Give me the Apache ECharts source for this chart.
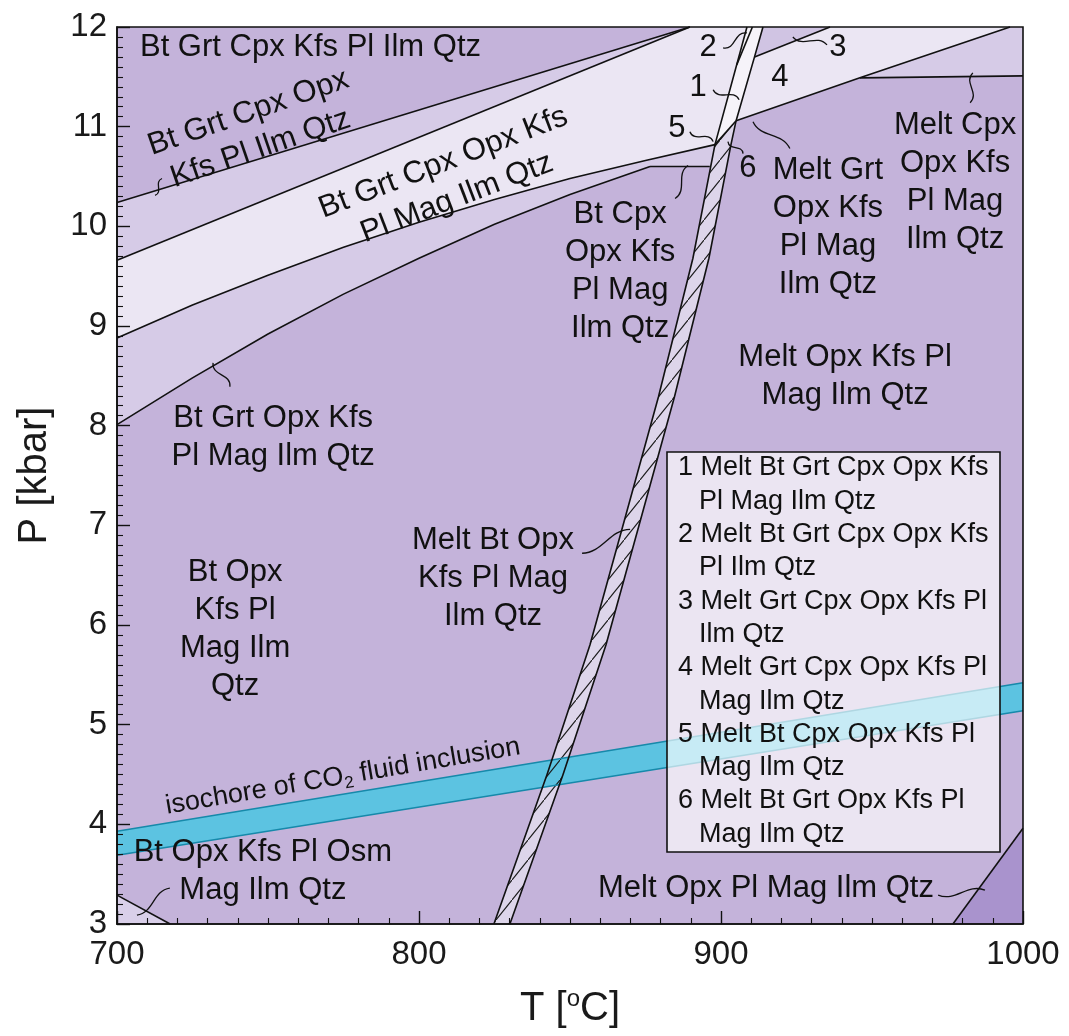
<!DOCTYPE html>
<html>
<head>
<meta charset="utf-8">
<script src="https://cdn.jsdelivr.net/npm/echarts@6/dist/echarts.min.js"></script>
<style>
  html, body { margin: 0; padding: 0; background: #ffffff; }
  #chart { width: 1069px; height: 1036px; }
</style>
</head>
<body>
<div id="chart"></div>
<script>
// ---- axes ----
const tempRange = [700, 1000];
const pressRange = [3, 12];

// ---- phase boundaries, points as [T (°C), P (kbar)] ----
const lineA = [[700, 10.24], [889.7, 12.0]];
const lineB = [[700, 9.66], [889.7, 12.0]];
const lineC = [[700, 8.88], [725, 9.21], [750, 9.51], [775, 9.79], [800, 10.04], [825, 10.27], [850, 10.48], [875, 10.66], [898.0, 10.82]];
const lineD = [[700, 8.01], [725, 8.48], [750, 8.92], [775, 9.32], [800, 9.68], [825, 10.02], [850, 10.32], [876.5, 10.60]];
const lineH1 = [[876.5, 10.60], [896.3, 10.60]];
const meltLeft = [[824.8, 3.0], [842.4, 4.50], [856.6, 5.80], [867.2, 6.96], [879.3, 8.29], [890.7, 9.68], [898.0, 10.82], [908.6, 12.0]];
const meltRight = [[830.1, 3.0], [847.7, 4.50], [861.9, 5.80], [872.5, 6.96], [884.6, 8.29], [896.0, 9.68], [903.3, 10.82], [905.0, 11.06]];
const lineJ = [[898.0, 10.82], [905.0, 11.06]];
const lineR = [[905.0, 11.06], [911.1, 11.70], [913.9, 12.0]];
const lineM = [[910.4, 12.0], [905.2, 11.62]];
const lineE = [[911.1, 11.70], [936.1, 12.0]];
const lineCp = [[905.0, 11.06], [946.0, 11.49], [995.7, 12.0]];
const lineH2 = [[946.0, 11.49], [1000, 11.51]];
const lineLL = [[700, 3.29], [717.6, 3.0]];
const lineBR = [[976.8, 3.0], [1000, 3.96]];

// ---- CO2 fluid inclusion isochore band ----
const co2Upper = [[700, 3.93], [1000, 5.42]];
const co2Lower = [[700, 3.69], [1000, 5.14]];

// ---- legend for the small numbered fields ----
const legendNumbers = ['1', '2', '3', '4', '5', '6'];
const legendFirst = ['Melt Bt Grt Cpx Opx Kfs', 'Melt Bt Grt Cpx Opx Kfs', 'Melt Grt Cpx Opx Kfs Pl', 'Melt Grt Cpx Opx Kfs Pl', 'Melt Bt Cpx Opx Kfs Pl', 'Melt Bt Grt Opx Kfs Pl'];
const legendSecond = ['Pl Mag Ilm Qtz', 'Pl Ilm Qtz', 'Ilm Qtz', 'Mag Ilm Qtz', 'Mag Ilm Qtz', 'Mag Ilm Qtz'];

const FONT = '"Liberation Sans", Arial, Helvetica, sans-serif';
const rev = a => a.slice().reverse();
const J1 = 6; // index of the C / melt-band junction in meltLeft

// filled fields (background of the plot is the common medium purple)
const fields = [
  { pts: [lineA[0], lineA[1], lineB[0]], color: '#d6cbe7' },
  { pts: [...lineB, meltLeft[J1 + 1], ...rev(lineC)], color: '#ebe6f3' },
  { pts: [...lineC, lineH1[1], ...rev(lineD)], color: '#d6cbe7' },
  { pts: [[700, 3], ...lineLL], color: '#d9cfe9' },
  { pts: [...meltLeft.slice(0, J1 + 1), ...rev(meltRight)], color: '#ddd5ea' },
  { pts: [meltLeft[J1], meltLeft[J1 + 1], lineR[2], lineR[0]], color: '#f6f3f9' },
  { pts: [lineE[0], lineR[2], lineE[1]], color: '#d0c4e3' },
  { pts: [lineR[0], lineR[1], lineE[1], lineCp[2], lineCp[1]], color: '#ebe6f3' },
  { pts: [lineH2[0], lineCp[2], [1000, 12], lineH2[1]], color: '#d6cbe7' },
  { pts: [lineBR[0], lineBR[1], [1000, 3]], color: '#a993cd' }
];
const meltBand = [...meltLeft.slice(0, J1 + 1), ...rev(meltRight)];
const co2Band = [...co2Upper, ...rev(co2Lower)];
const boundaries = [lineA, lineB, lineC, lineD, lineH1, meltLeft, meltRight, lineJ, lineR, lineM, lineE, lineCp, lineH2, lineLL, lineBR];

// field names placed in the diagram
const fieldLabels = [
  { text: 'Bt Grt Cpx Kfs Pl Ilm Qtz', at: [707.6, 11.79], align: 'left' },
  { text: 'Bt Grt Cpx Opx\nKfs Pl Ilm Qtz', at: [745.5, 10.96], rot: 19 },
  { text: 'Bt Grt Cpx Opx Kfs\nPl Mag Ilm Qtz', at: [810.3, 10.46], rot: 21 },
  { text: 'Bt Cpx\nOpx Kfs\nPl Mag\nIlm Qtz', at: [866.6, 9.55] },
  { text: 'Melt Grt\nOpx Kfs\nPl Mag\nIlm Qtz', at: [935.4, 9.99] },
  { text: 'Melt Cpx\nOpx Kfs\nPl Mag\nIlm Qtz', at: [977.5, 10.44] },
  { text: 'Melt Opx Kfs Pl\nMag Ilm Qtz', at: [941.1, 8.49] },
  { text: 'Bt Grt Opx Kfs\nPl Mag Ilm Qtz', at: [751.7, 7.88] },
  { text: 'Bt Opx\nKfs Pl\nMag Ilm\nQtz', at: [739.1, 5.96] },
  { text: 'Melt Bt Opx\nKfs Pl Mag\nIlm Qtz', at: [824.5, 6.47] },
  { text: 'Bt Opx Kfs Pl Osm\nMag Ilm Qtz', at: [748.3, 3.53] },
  { text: 'Melt Opx Pl Mag Ilm Qtz', at: [914.9, 3.36] },
  { text: '2', at: [895.7, 11.79] },
  { text: '3', at: [938.7, 11.79] },
  { text: '1', at: [892.4, 11.39] },
  { text: '4', at: [919.5, 11.49] },
  { text: '5', at: [885.4, 10.98] },
  { text: '6', at: [908.9, 10.58] }
];

// wavy leader lines from a name to its field
const leaders = [
  [[714.9, 10.48], [712.6, 10.31]],
  [[731.8, 8.63], [737.4, 8.39]],
  [[900.7, 11.79], [908.6, 11.94]],
  [[935.1, 11.82], [923.8, 11.90]],
  [[897.4, 11.37], [906.0, 11.27]],
  [[889.7, 10.95], [897.4, 10.85]],
  [[907.3, 10.73], [902.3, 10.85]],
  [[922.8, 10.78], [910.6, 11.05]],
  [[884.8, 10.28], [889.1, 10.61]],
  [[982.5, 11.24], [983.4, 11.54]],
  [[854.0, 6.72], [869.9, 6.96]],
  [[717.5, 3.36], [706.6, 3.09]],
  [[971.9, 3.29], [987.4, 3.34]]
];

function hatchPattern() {
  const c = document.createElement('canvas');
  c.width = 16; c.height = 20;
  const g = c.getContext('2d');
  g.strokeStyle = '#1a1a1a';
  g.lineWidth = 1.1;
  g.beginPath();
  g.moveTo(-4, 25); g.lineTo(20, -5);
  g.stroke();
  return c;
}
const hatch = hatchPattern();

const toPx = (api, pts) => pts.map(p => api.coord(p));

const chart = echarts.init(document.getElementById('chart'), null, { renderer: 'canvas' });

const axisCommon = {
  type: 'value',
  z: 20,
  splitLine: { show: false },
  axisLine: { show: true, lineStyle: { color: '#111', width: 1.6 } },
  axisTick: { show: true, inside: true, length: 13, lineStyle: { color: '#111', width: 1.4 } },
  minorTick: { show: true, splitNumber: 10, length: 6, lineStyle: { color: '#111', width: 1.1 } },
  minorSplitLine: { show: false }
};

chart.setOption({
  animation: false,
  backgroundColor: '#ffffff',
  grid: { left: 117, right: 46, top: 27, bottom: 105, show: true, backgroundColor: '#c4b3da', borderWidth: 0 },
  xAxis: Object.assign({}, axisCommon, {
    min: tempRange[0], max: tempRange[1], interval: 100,
    axisLabel: { fontSize: 33, color: '#1a1a1a', fontFamily: FONT, margin: 14, formatter: v => String(v) },
    name: 'T [{s|o}C]', nameLocation: 'middle', nameGap: 63,
    nameTextStyle: { fontSize: 40, color: '#1a1a1a', fontFamily: FONT, lineHeight: 44,
      rich: { s: { fontSize: 24, fontFamily: FONT, color: '#1a1a1a', verticalAlign: 'top', lineHeight: 30 } } }
  }),
  yAxis: Object.assign({}, axisCommon, {
    min: pressRange[0], max: pressRange[1], interval: 1,
    axisLabel: { fontSize: 33, color: '#1a1a1a', fontFamily: FONT, margin: 10, formatter: v => String(v) },
    name: 'P [kbar]', nameLocation: 'middle', nameGap: 62, nameRotate: 90,
    nameTextStyle: { fontSize: 40, color: '#1a1a1a', fontFamily: FONT }
  }),
  series: [
    {
      type: 'custom', name: 'fields', z: 1, silent: true,
      data: fields.map((f, i) => [i, 0]),
      renderItem: (params, api) => {
        const f = fields[params.dataIndex];
        return { type: 'polygon', shape: { points: toPx(api, f.pts) }, style: { fill: f.color, stroke: null } };
      }
    },
    {
      type: 'custom', name: 'co2 band', z: 2, silent: true,
      data: [[0, 0]],
      renderItem: (params, api) => ({
        type: 'polygon', shape: { points: toPx(api, co2Band) }, style: { fill: '#5cc3e1', stroke: null }
      })
    },
    {
      type: 'custom', name: 'melt band hatch', z: 3, silent: true,
      data: [[0, 0]],
      renderItem: (params, api) => ({
        type: 'polygon', shape: { points: toPx(api, meltBand) },
        style: { fill: { image: hatch, repeat: 'repeat' }, stroke: null }
      })
    },
    {
      type: 'custom', name: 'co2 lines', z: 4, silent: true,
      data: [[0, 0], [1, 0]],
      renderItem: (params, api) => ({
        type: 'polyline', shape: { points: toPx(api, params.dataIndex ? co2Lower : co2Upper) },
        style: { stroke: '#1689aa', lineWidth: 1.6, fill: null }
      })
    },
    {
      type: 'custom', name: 'boundaries', z: 4, silent: true,
      data: boundaries.map((b, i) => [i, 0]),
      renderItem: (params, api) => ({
        type: 'polyline', shape: { points: toPx(api, boundaries[params.dataIndex]) },
        style: { stroke: '#111', lineWidth: 1.6, fill: null, lineJoin: 'round' }
      })
    },
    {
      type: 'custom', name: 'leaders', z: 5, silent: true,
      data: leaders.map((l, i) => [i, 0]),
      renderItem: (params, api) => {
        const [a, b] = toPx(api, leaders[params.dataIndex]);
        const dx = b[0] - a[0], dy = b[1] - a[1];
        const len = Math.hypot(dx, dy) || 1;
        const nx = -dy / len, ny = dx / len, k = Math.min(9, len * 0.35);
        return {
          type: 'bezierCurve',
          shape: {
            x1: a[0], y1: a[1], x2: b[0], y2: b[1],
            cpx1: a[0] + dx * 0.35 + nx * k, cpy1: a[1] + dy * 0.35 + ny * k,
            cpx2: a[0] + dx * 0.65 - nx * k, cpy2: a[1] + dy * 0.65 - ny * k
          },
          style: { stroke: '#111', lineWidth: 1.3, fill: null }
        };
      }
    },
    {
      type: 'custom', name: 'field names', z: 6, silent: true,
      data: fieldLabels.map((l, i) => [i, 0]),
      renderItem: (params, api) => {
        const l = fieldLabels[params.dataIndex];
        const p = api.coord(l.at);
        return {
          type: 'text', x: p[0], y: p[1], rotation: (l.rot || 0) * Math.PI / 180,
          style: { text: l.text, fontSize: 31, fontFamily: FONT, fill: '#111',
            align: l.align || 'center', verticalAlign: 'middle', lineHeight: 38 }
        };
      }
    },
    {
      type: 'custom', name: 'isochore label', z: 6, silent: true,
      data: [[0, 0]],
      renderItem: (params, api) => {
        const p = api.coord([774.8, 4.48]);
        return {
          type: 'text', x: p[0], y: p[1], rotation: 9.6 * Math.PI / 180,
          style: { text: 'isochore of CO{sub|2} fluid inclusion', fontSize: 27, fontFamily: FONT, fill: '#111',
            align: 'center', verticalAlign: 'middle', lineHeight: 32,
            rich: { sub: { fontSize: 17, fontFamily: FONT, fill: '#111', verticalAlign: 'bottom', lineHeight: 24 } } }
        };
      }
    },
    {
      // key box for the numbered fields, drawn over the isochore band
      type: 'custom', name: 'field key', z: 8, silent: true,
      data: [[0, 0]],
      renderItem: (params) => {
        const cs = params.coordSys;
        const x0 = cs.x + 550, y0 = cs.y + 425;
        const children = [
          { type: 'rect', shape: { x: x0, y: y0, width: 333, height: 400 },
            style: { fill: 'rgba(255,255,255,0.66)', stroke: '#111', lineWidth: 1.6 } }
        ];
        legendNumbers.forEach((n, i) => {
          children.push({ type: 'text', x: x0 + 11, y: y0 + 16 + i * 66.6,
            style: { text: n + ' ' + legendFirst[i], fontSize: 27, fontFamily: FONT, fill: '#111', verticalAlign: 'middle' } });
          children.push({ type: 'text', x: x0 + 32, y: y0 + 49.3 + i * 66.6,
            style: { text: legendSecond[i], fontSize: 27, fontFamily: FONT, fill: '#111', verticalAlign: 'middle' } });
        });
        return { type: 'group', children };
      }
    },
    {
      type: 'custom', name: 'frame', z: 30, silent: true,
      data: [[700, 3]],
      renderItem: (params) => {
        const cs = params.coordSys;
        return { type: 'rect', shape: { x: cs.x, y: cs.y, width: cs.width, height: cs.height },
          style: { fill: null, stroke: '#111', lineWidth: 1.6 } };
      }
    }
  ]
});
</script>
</body>
</html>
